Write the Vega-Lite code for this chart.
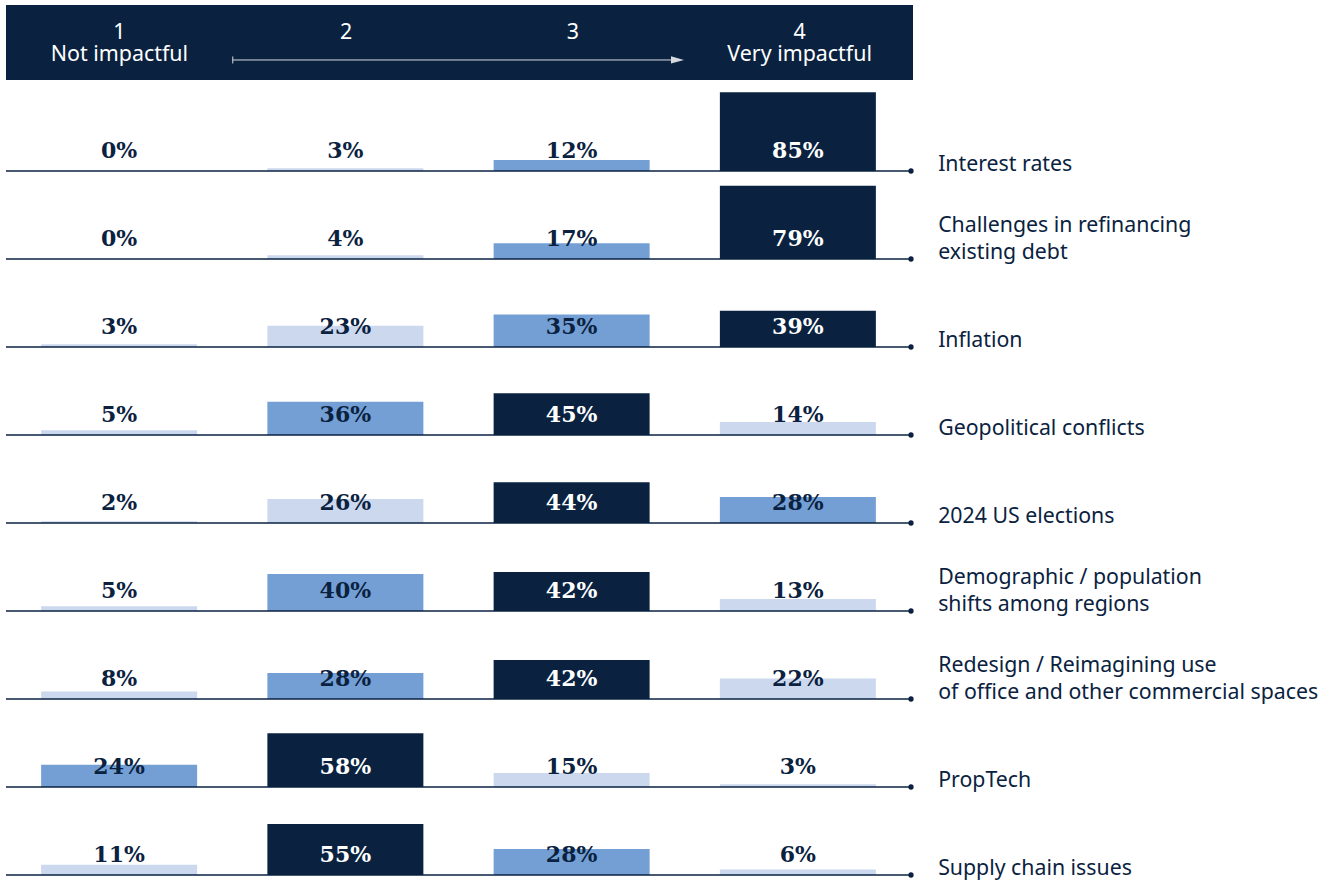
{
  "$schema": "https://vega.github.io/schema/vega-lite/v6.json",
  "background": "white",
  "padding": {"left": 5, "top": 5, "right": 5, "bottom": 0},
  "config": {"view": {"stroke": null}, "font": "Noto Sans"},
  "spacing": 3,
  "bounds": "flush",
  "vconcat": [
    {
      "width": 907,
      "height": 75,
      "view": {"fill": "#0a2240", "stroke": null},
      "data": {"values": [
        {"col": 1, "number": "1", "descriptor": "Not impactful"},
        {"col": 2, "number": "2", "descriptor": ""},
        {"col": 3, "number": "3", "descriptor": ""},
        {"col": 4, "number": "4", "descriptor": "Very impactful"}
      ]},
      "layer": [
        {
          "mark": {"type": "text", "color": "white", "fontSize": 21.4, "baseline": "middle", "font": "Noto Sans"},
          "encoding": {
            "x": {"field": "col", "type": "quantitative", "scale": {"domain": [0.5, 4.5], "nice": false, "zero": false, "padding": 0}, "axis": null},
            "y": {"datum": 0.625, "type": "quantitative", "scale": {"domain": [0, 1], "nice": false, "zero": false, "padding": 0}, "axis": null},
            "text": {"field": "number"}
          }
        },
        {
          "mark": {"type": "text", "color": "white", "fontSize": 21.4, "baseline": "middle", "font": "Noto Sans"},
          "encoding": {
            "x": {"field": "col", "type": "quantitative", "scale": {"domain": [0.5, 4.5], "nice": false, "zero": false, "padding": 0}},
            "y": {"datum": 0.333, "type": "quantitative", "scale": {"domain": [0, 1], "nice": false, "zero": false, "padding": 0}},
            "text": {"field": "descriptor"}
          }
        },
        {
          "data": {"values": [{"from": 1.5, "to": 3.47}]},
          "mark": {"type": "rule", "color": "#d6d9de", "strokeWidth": 1},
          "encoding": {
            "x": {"field": "from", "type": "quantitative", "scale": {"domain": [0.5, 4.5], "nice": false, "zero": false, "padding": 0}},
            "x2": {"field": "to"},
            "y": {"datum": 0.267, "type": "quantitative", "scale": {"domain": [0, 1], "nice": false, "zero": false, "padding": 0}}
          }
        },
        {
          "data": {"values": [{"pos": 1.5}]},
          "mark": {"type": "point", "shape": "M0,-1L0,1", "size": 49, "filled": false, "stroke": "#d6d9de", "strokeWidth": 1, "opacity": 1},
          "encoding": {
            "x": {"field": "pos", "type": "quantitative", "scale": {"domain": [0.5, 4.5], "nice": false, "zero": false, "padding": 0}},
            "y": {"datum": 0.267, "type": "quantitative", "scale": {"domain": [0, 1], "nice": false, "zero": false, "padding": 0}}
          }
        },
        {
          "data": {"values": [{"pos": 3.49}]},
          "mark": {"type": "point", "shape": "M-1,-0.28L0,0L-1,0.28Z", "size": 676, "filled": true, "color": "#d6d9de", "opacity": 1},
          "encoding": {
            "x": {"field": "pos", "type": "quantitative", "scale": {"domain": [0.5, 4.5], "nice": false, "zero": false, "padding": 0}},
            "y": {"datum": 0.267, "type": "quantitative", "scale": {"domain": [0, 1], "nice": false, "zero": false, "padding": 0}}
          }
        }
      ]
    },
    {
      "data": {"values": [
        {"category": "Interest rates", "col": 1, "value": 0.00, "level": "Other"},
        {"category": "Interest rates", "col": 2, "value": 0.03, "level": "Other"},
        {"category": "Interest rates", "col": 3, "value": 0.12, "level": "Second"},
        {"category": "Interest rates", "col": 4, "value": 0.85, "level": "Highest"},
        {"category": "Challenges in refinancing|existing debt", "col": 1, "value": 0.00, "level": "Other"},
        {"category": "Challenges in refinancing|existing debt", "col": 2, "value": 0.04, "level": "Other"},
        {"category": "Challenges in refinancing|existing debt", "col": 3, "value": 0.17, "level": "Second"},
        {"category": "Challenges in refinancing|existing debt", "col": 4, "value": 0.79, "level": "Highest"},
        {"category": "Inflation", "col": 1, "value": 0.03, "level": "Other"},
        {"category": "Inflation", "col": 2, "value": 0.23, "level": "Other"},
        {"category": "Inflation", "col": 3, "value": 0.35, "level": "Second"},
        {"category": "Inflation", "col": 4, "value": 0.39, "level": "Highest"},
        {"category": "Geopolitical conflicts", "col": 1, "value": 0.05, "level": "Other"},
        {"category": "Geopolitical conflicts", "col": 2, "value": 0.36, "level": "Second"},
        {"category": "Geopolitical conflicts", "col": 3, "value": 0.45, "level": "Highest"},
        {"category": "Geopolitical conflicts", "col": 4, "value": 0.14, "level": "Other"},
        {"category": "2024 US elections", "col": 1, "value": 0.02, "level": "Other"},
        {"category": "2024 US elections", "col": 2, "value": 0.26, "level": "Other"},
        {"category": "2024 US elections", "col": 3, "value": 0.44, "level": "Highest"},
        {"category": "2024 US elections", "col": 4, "value": 0.28, "level": "Second"},
        {"category": "Demographic / population|shifts among regions", "col": 1, "value": 0.05, "level": "Other"},
        {"category": "Demographic / population|shifts among regions", "col": 2, "value": 0.40, "level": "Second"},
        {"category": "Demographic / population|shifts among regions", "col": 3, "value": 0.42, "level": "Highest"},
        {"category": "Demographic / population|shifts among regions", "col": 4, "value": 0.13, "level": "Other"},
        {"category": "Redesign / Reimagining use|of office and other commercial spaces", "col": 1, "value": 0.08, "level": "Other"},
        {"category": "Redesign / Reimagining use|of office and other commercial spaces", "col": 2, "value": 0.28, "level": "Second"},
        {"category": "Redesign / Reimagining use|of office and other commercial spaces", "col": 3, "value": 0.42, "level": "Highest"},
        {"category": "Redesign / Reimagining use|of office and other commercial spaces", "col": 4, "value": 0.22, "level": "Other"},
        {"category": "PropTech", "col": 1, "value": 0.24, "level": "Second"},
        {"category": "PropTech", "col": 2, "value": 0.58, "level": "Highest"},
        {"category": "PropTech", "col": 3, "value": 0.15, "level": "Other"},
        {"category": "PropTech", "col": 4, "value": 0.03, "level": "Other"},
        {"category": "Supply chain issues", "col": 1, "value": 0.11, "level": "Other"},
        {"category": "Supply chain issues", "col": 2, "value": 0.55, "level": "Highest"},
        {"category": "Supply chain issues", "col": 3, "value": 0.28, "level": "Second"},
        {"category": "Supply chain issues", "col": 4, "value": 0.06, "level": "Other"}
      ]},
      "spacing": 0,
      "bounds": "flush",
      "facet": {
        "row": {
          "field": "category",
          "type": "nominal",
          "title": null,
          "sort": [
            "Interest rates",
            "Challenges in refinancing|existing debt",
            "Inflation",
            "Geopolitical conflicts",
            "2024 US elections",
            "Demographic / population|shifts among regions",
            "Redesign / Reimagining use|of office and other commercial spaces",
            "PropTech",
            "Supply chain issues"
          ],
          "header": {"labels": false, "title": null}
        }
      },
      "spec": {
        "width": 905,
        "height": 88,
        "layer": [
          {
            "mark": {"type": "bar", "width": 156},
            "encoding": {
              "x": {"field": "col", "type": "quantitative", "scale": {"domain": [0.5, 4.5], "nice": false, "zero": false, "padding": 0}, "axis": null},
              "y": {"field": "value", "type": "quantitative", "scale": {"domain": [0, 0.95], "nice": false, "zero": false, "padding": 0}, "axis": null},
              "color": {
                "field": "level",
                "type": "nominal",
                "scale": {"domain": ["Highest", "Second", "Other"], "range": ["#0a2240", "#739fd4", "#cbd8ee"]},
                "legend": null
              }
            }
          },
          {
            "transform": [{"filter": "datum.col === 1"}],
            "mark": {"type": "rule", "color": "#0a2240", "strokeWidth": 1.5},
            "encoding": {
              "y": {"datum": 0, "type": "quantitative", "scale": {"domain": [0, 0.95], "nice": false, "zero": false, "padding": 0}}
            }
          },
          {
            "transform": [{"filter": "datum.col === 1"}],
            "mark": {"type": "point", "filled": true, "color": "#0a2240", "size": 28, "opacity": 1},
            "encoding": {
              "x": {"datum": 4.5, "type": "quantitative", "scale": {"domain": [0.5, 4.5], "nice": false, "zero": false, "padding": 0}},
              "y": {"datum": 0, "type": "quantitative", "scale": {"domain": [0, 0.95], "nice": false, "zero": false, "padding": 0}}
            }
          },
          {
            "mark": {"type": "text", "font": "DejaVu Serif", "fontWeight": "bold", "fontSize": 22, "baseline": "middle", "dy": -20},
            "encoding": {
              "x": {"field": "col", "type": "quantitative", "scale": {"domain": [0.5, 4.5], "nice": false, "zero": false, "padding": 0}},
              "y": {"datum": 0, "type": "quantitative", "scale": {"domain": [0, 0.95], "nice": false, "zero": false, "padding": 0}},
              "text": {"field": "value", "type": "quantitative", "format": ".0%"},
              "color": {"condition": {"test": "datum.level === 'Highest'", "value": "#ffffff"}, "value": "#0a2240"}
            }
          },
          {
            "transform": [
              {"filter": "datum.col === 1"},
              {"calculate": "peek(split(datum.category, '|'))", "as": "lastLine"}
            ],
            "mark": {"type": "text", "font": "Noto Sans", "fontSize": 21.3, "align": "left", "baseline": "alphabetic", "color": "#0a2240"},
            "encoding": {
              "x": {"datum": 4.62, "type": "quantitative", "scale": {"domain": [0.5, 4.5], "nice": false, "zero": false, "padding": 0}},
              "y": {"datum": 0, "type": "quantitative", "scale": {"domain": [0, 0.95], "nice": false, "zero": false, "padding": 0}},
              "text": {"field": "lastLine"}
            }
          },
          {
            "transform": [
              {"filter": "datum.col === 1 && indexof(datum.category, '|') >= 0"},
              {"calculate": "split(datum.category, '|')[0]", "as": "firstLine"}
            ],
            "mark": {"type": "text", "font": "Noto Sans", "fontSize": 21.3, "align": "left", "baseline": "alphabetic", "dy": -27, "color": "#0a2240"},
            "encoding": {
              "x": {"datum": 4.62, "type": "quantitative", "scale": {"domain": [0.5, 4.5], "nice": false, "zero": false, "padding": 0}},
              "y": {"datum": 0, "type": "quantitative", "scale": {"domain": [0, 0.95], "nice": false, "zero": false, "padding": 0}},
              "text": {"field": "firstLine"}
            }
          }
        ]
      }
    }
  ]
}
